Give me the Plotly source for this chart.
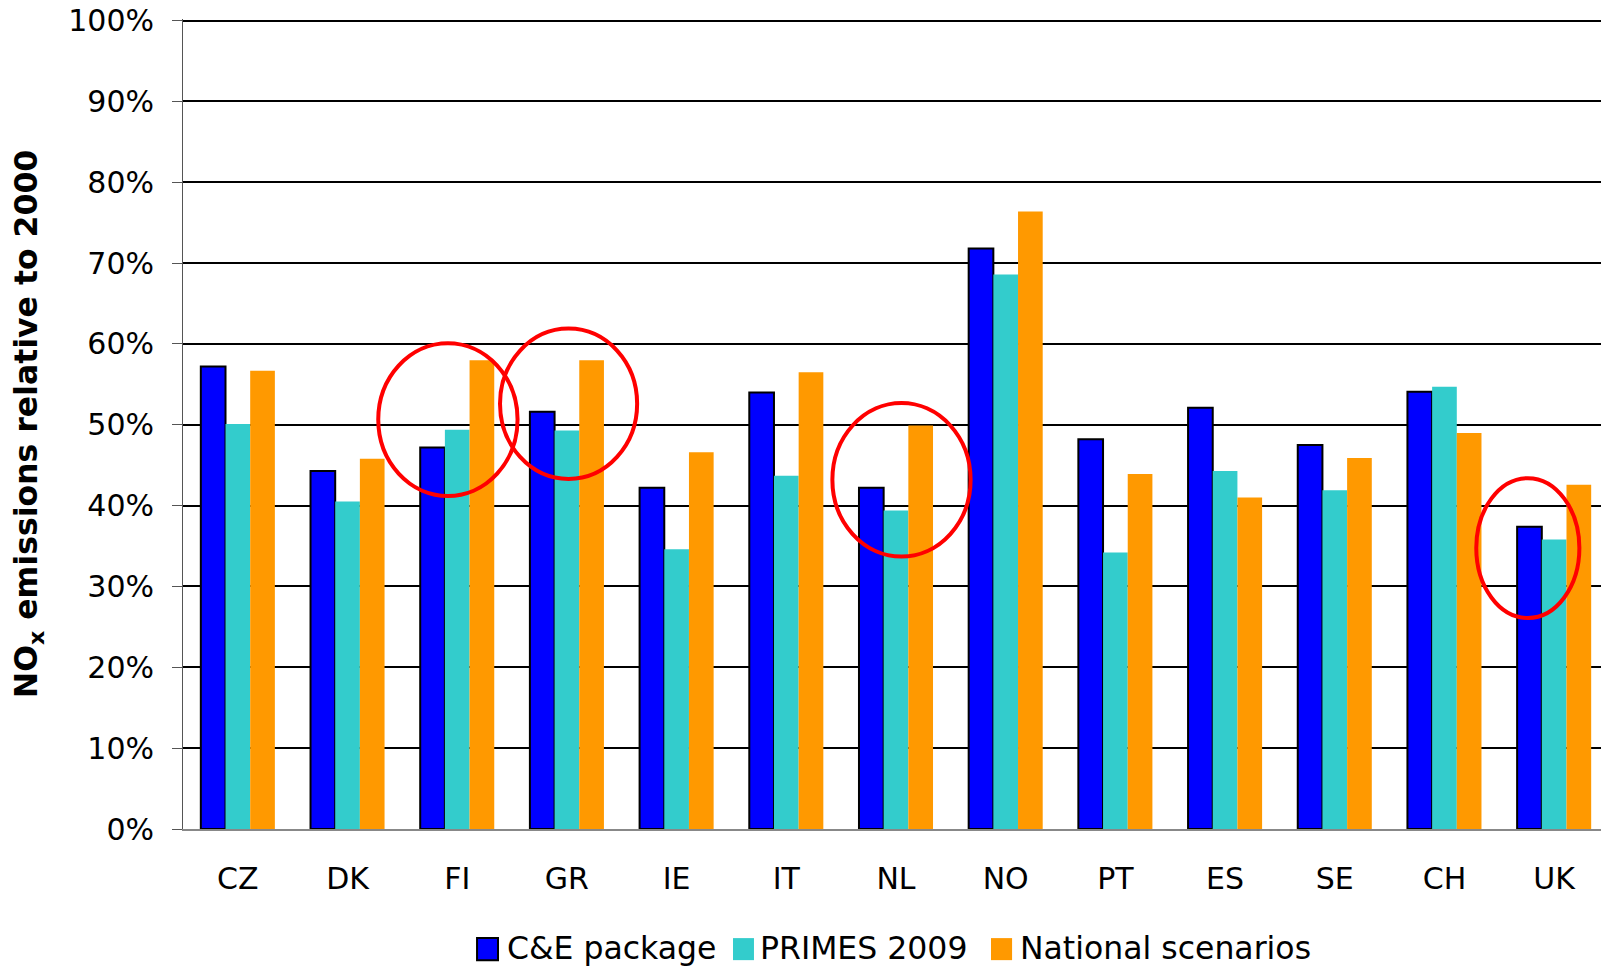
import plotly.graph_objects as go

categories = ["CZ", "DK", "FI", "GR", "IE", "IT", "NL", "NO", "PT", "ES", "SE", "CH", "UK"]
ce_package = [57.2, 44.3, 47.2, 51.6, 42.2, 54.0, 42.2, 71.8, 48.2, 52.1, 47.5, 54.1, 37.4]
primes_2009 = [50.1, 40.5, 49.4, 49.3, 34.6, 43.7, 39.4, 68.6, 34.2, 44.3, 41.9, 54.7, 35.8]
national = [56.7, 45.8, 58.0, 58.0, 46.6, 56.5, 49.9, 76.4, 43.9, 41.0, 45.9, 49.0, 42.6]
series_names = ["C&E package", "PRIMES 2009", "National scenarios"]
y_ticks = [0, 10, 20, 30, 40, 50, 60, 70, 80, 90, 100]
y_tick_labels = [f"{v}%" for v in y_ticks]

colors = ["#0000FF", "#33CCCC", "#FF9900"]
outlines = [dict(color="black", width=2), dict(width=0), dict(width=0)]

# highlight ellipses (category-index x, percent y)
highlights = [
    (1.28, 2.55, 41.2, 60.1),
    (2.39, 3.64, 43.3, 61.9),
    (5.42, 6.68, 33.7, 52.7),
    (11.29, 12.23, 26.1, 43.4),
]

# manual legend layout (paper coords): symbol left, symbol right, text left
legend_pos = [(0.2062, 0.2209, 0.2260), (0.3857, 0.4004, 0.4035), (0.5666, 0.5814, 0.5855)]

fig = go.Figure()
for name, vals, col, ol in zip(series_names, [ce_package, primes_2009, national], colors, outlines):
    fig.add_trace(go.Bar(name=name, x=categories, y=vals,
                         marker=dict(color=col, line=ol), showlegend=False))

for x0, x1, y0, y1 in highlights:
    fig.add_shape(type="circle", xref="x", yref="y", x0=x0, x1=x1, y0=y0, y1=y1,
                  line=dict(color="#FF0000", width=4), layer="above")

for (sx0, sx1, tx), name, col, ol in zip(legend_pos, series_names, colors, outlines):
    fig.add_shape(type="rect", xref="paper", yref="paper", x0=sx0, x1=sx1,
                  y0=-0.1619, y1=-0.1347, fillcolor=col,
                  line=dict(color="black", width=2) if ol.get("width") else dict(width=0))
    fig.add_annotation(xref="paper", yref="paper", x=tx, y=-0.1475, xanchor="left",
                       yanchor="middle", text=name, showarrow=False,
                       font=dict(family="DejaVu Sans", size=31.5, color="black"))

# page body has an 8px margin, so the figure is sized to fit inside it
fig.update_layout(
    width=1601, height=959,
    margin=dict(l=175, r=0, t=11, b=138),
    plot_bgcolor="white", paper_bgcolor="white",
    barmode="group", bargap=0.325, bargroupgap=0,
    font=dict(family="DejaVu Sans", color="black"),
    showlegend=False,
)
fig.update_yaxes(range=[0, 100.2], tickvals=y_ticks, ticktext=y_tick_labels,
                 tickfont=dict(size=30, family="DejaVu Sans"),
                 ticklabeloverflow="allow",
                 showgrid=True, gridcolor="black", gridwidth=2,
                 ticks="outside", ticklen=10, tickcolor="#555555", tickwidth=1,
                 ticklabelstandoff=12,
                 showline=True, linecolor="#555555", linewidth=1,
                 zeroline=False, automargin=False,
                 title=dict(text="NO<sub>x</sub> emissions relative to 2000",
                            font=dict(size=31.5, family="DejaVu Sans", weight="bold"),
                            standoff=22))
fig.update_xaxes(tickfont=dict(size=30, family="DejaVu Sans"),
                 showline=True, linecolor="#888888", linewidth=2,
                 ticks="", ticklabelstandoff=22, automargin=False)

fig.write_html("out.html")
